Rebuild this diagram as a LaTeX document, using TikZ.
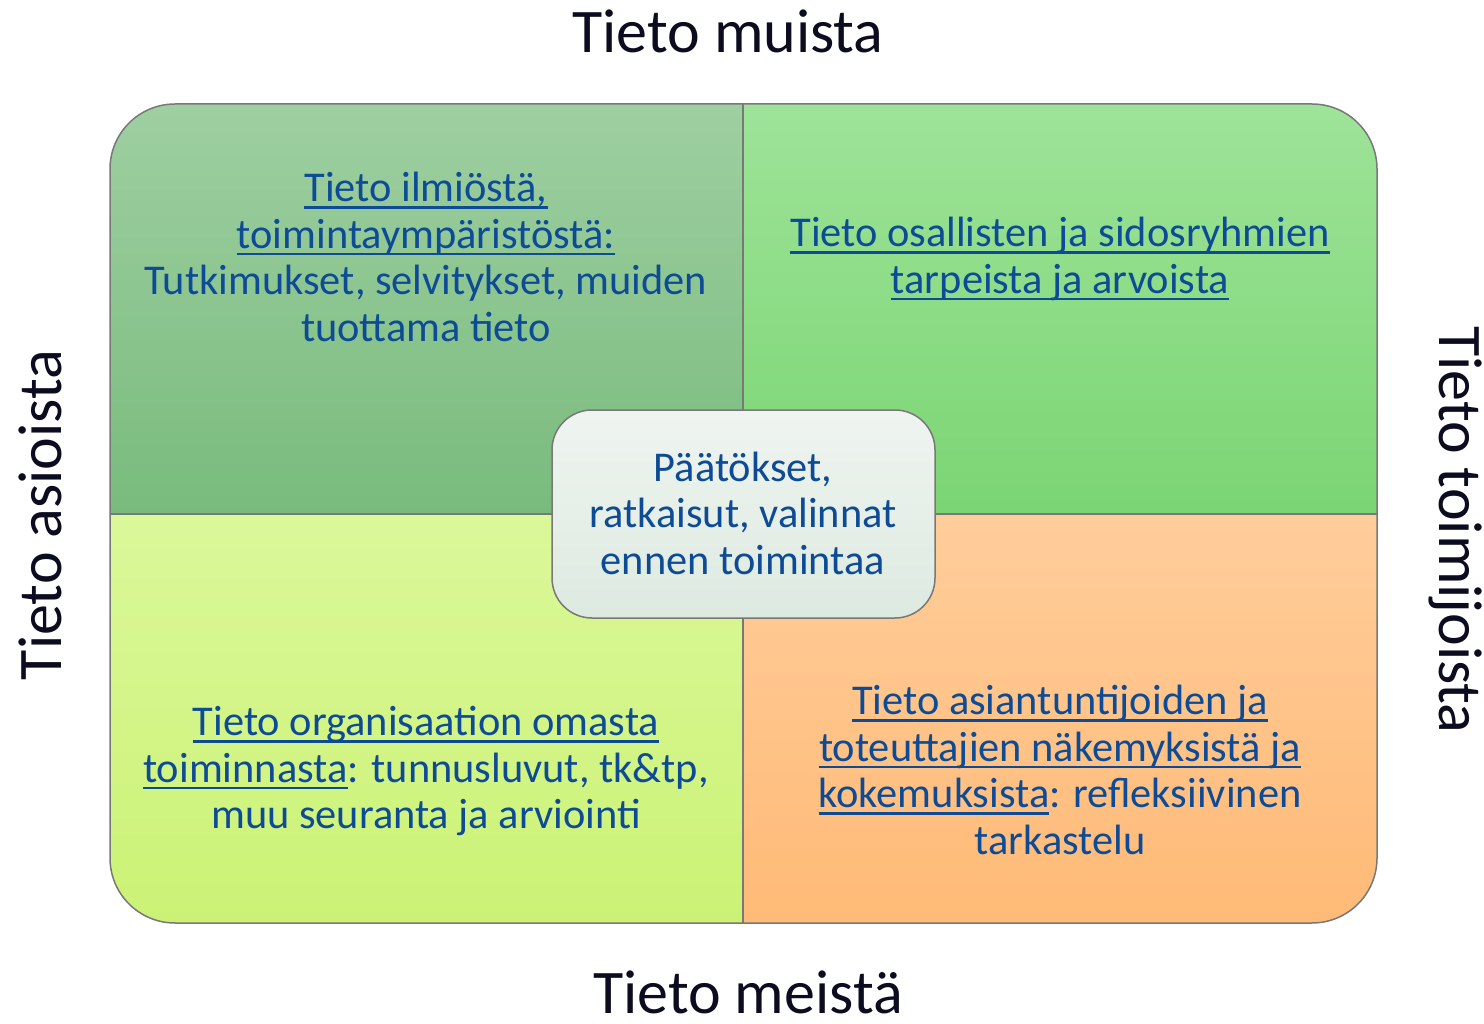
\documentclass[tikz,border=0pt]{standalone}
\usepackage{fontspec}
\setmainfont{Carlito}
\newcommand\myul[1]{\setbox0\hbox{#1}\rlap{\rule[-7pt]{\wd0}{2.5pt}}\box0}
\definecolor{txt}{RGB}{14,75,150}
\definecolor{ttl}{RGB}{12,12,32}
\definecolor{tlTop}{RGB}{158,207,161}
\definecolor{tlBot}{RGB}{121,187,125}
\definecolor{trTop}{RGB}{158,227,153}
\definecolor{trBot}{RGB}{123,213,115}
\definecolor{blTop}{RGB}{219,248,154}
\definecolor{blBot}{RGB}{203,242,117}
\definecolor{brTop}{RGB}{255,205,155}
\definecolor{brBot}{RGB}{255,186,118}
\definecolor{cTop}{RGB}{239,244,240}
\definecolor{cBot}{RGB}{221,234,224}
\definecolor{edge}{RGB}{120,120,120}
\begin{document}
\begin{tikzpicture}[x=1pt,y=-1pt,
  body/.style={text=txt, font=\fontsize{42.4}{46.5}\selectfont, align=center, inner sep=0pt},
  title/.style={text=ttl, font=\fontsize{62}{70}\selectfont, inner sep=0pt}]
\useasboundingbox (0,0) rectangle (1484,1024);
% quadrants
\begin{scope}
  \clip[rounded corners=65pt] (110,104) rectangle (1377,923);
  \fill[top color=tlTop, bottom color=tlBot] (110,104) rectangle (743,514);
  \fill[top color=trTop, bottom color=trBot] (743,104) rectangle (1377,514);
  \fill[top color=blTop, bottom color=blBot] (110,514) rectangle (743,923);
  \fill[top color=brTop, bottom color=brBot] (743,514) rectangle (1377,923);
\end{scope}
\draw[edge, line width=1.5pt] (743,104) -- (743,923);
\draw[edge, line width=1.5pt] (110,514) -- (1377,514);
\draw[edge, line width=1.5pt, rounded corners=65pt] (110,104) rectangle (1377,923);
% centre box
\draw[edge, line width=1.5pt, rounded corners=40pt, top color=cTop, bottom color=cBot] (552,410) rectangle (935,618);
% texts
\node[body] (tl) at (426,257) {\myul{Tieto ilmiöstä,}\\ \myul{toimintaympäristöstä:}\\ Tutkimukset, selvitykset, muiden\\ tuottama tieto};
\node[body] (tr) at (1060,259) {\myul{Tieto osallisten ja sidosryhmien}\\ \myul{tarpeista ja arvoista}};
\node[body] (bl) at (426,771) {\myul{Tieto organisaation omasta}\\ \myul{toiminnasta}: tunnusluvut, tk\&tp,\\ muu seuranta ja arviointi};
\node[body] (br) at (1060,770) {\myul{Tieto asiantuntijoiden ja}\\ \myul{toteuttajien näkemyksistä ja}\\ \myul{kokemuksista}: refleksiivinen\\ tarkastelu};
\node[body] (c) at (743,513) {Päätökset,\\ ratkaisut, valinnat\\ ennen toimintaa};
% side titles
\node[title] (top) at (728,31) {Tieto muista};
\node[title] (bottom) at (748,992) {Tieto meistä};
\node[title, rotate=90] (left) at (40,515) {Tieto asioista};
\node[title, rotate=-90] (right) at (1455,530) {Tieto toimijoista};
\end{tikzpicture}
\end{document}
